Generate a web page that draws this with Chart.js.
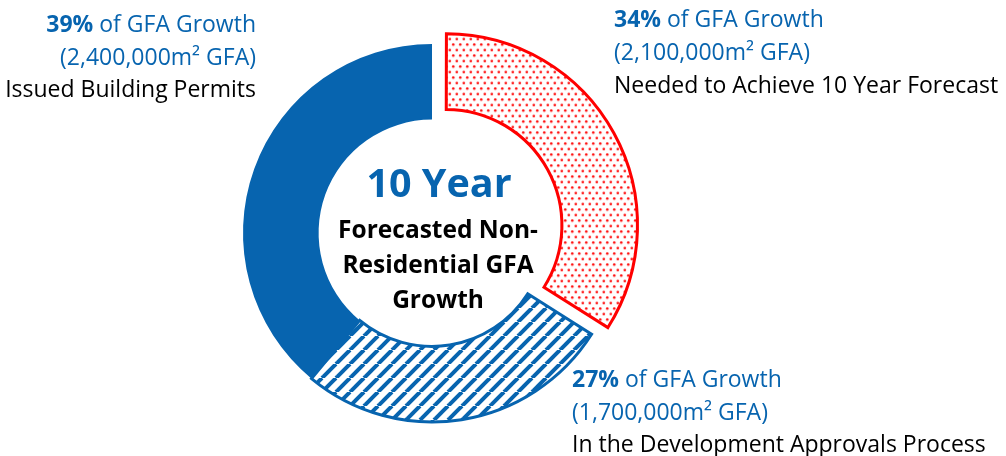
<!DOCTYPE html>
<html>
<head>
<meta charset="utf-8">
<script src="https://cdn.jsdelivr.net/npm/chart.js@4.4.1/dist/chart.umd.min.js"></script>
<style>
  html, body { margin: 0; padding: 0; background: #ffffff; }
  #wrap { position: relative; width: 1006px; height: 456px; }
</style>
</head>
<body>
<div id="wrap"><canvas id="c"></canvas></div>
<script>
// ---- data ----
const categories = ['Needed to Achieve 10 Year Forecast', 'In the Development Approvals Process', 'Issued Building Permits'];
const shares = [34, 27, 39];
const gfaValues = ['2,100,000', '1,700,000', '2,400,000'];
const centerTitle = '10 Year';
const centerLines = ['Forecasted Non-', 'Residential GFA', 'Growth'];

// ---- styles ----
const BLUE = '#0764AF';
const RED = '#FF0000';
const FONT = '"Open Sans", Lato, sans-serif';

function dotPattern() {
  const c = document.createElement('canvas');
  c.width = 7; c.height = 11;
  const g = c.getContext('2d');
  g.fillStyle = '#ffffff'; g.fillRect(0, 0, 7, 11);
  g.fillStyle = 'rgba(255,0,0,0.95)';
  [[1.75, 2.75], [5.25, 8.25]].forEach(([x, y]) => { g.beginPath(); g.arc(x, y, 1.3, 0, Math.PI * 2); g.fill(); });
  return g.createPattern(c, 'repeat');
}
function stripePattern() {
  const s = 14;
  const c = document.createElement('canvas');
  c.width = s; c.height = s;
  const g = c.getContext('2d');
  g.fillStyle = '#ffffff'; g.fillRect(0, 0, s, s);
  g.strokeStyle = BLUE; g.lineWidth = 4;
  for (let k = -1; k <= 1; k++) {
    g.beginPath(); g.moveTo(k * s, s); g.lineTo(k * s + s, 0); g.stroke();
  }
  return g.createPattern(c, 'repeat');
}

// label blocks
const labelBlocks = [
  { i: 2, x: 256, y: 32, align: 'right', gap: 32.5 },
  { i: 0, x: 614, y: 27, align: 'left', gap: 33 },
  { i: 1, x: 572, y: 387, align: 'left', gap: 32.5 }
];

const textPlugin = {
  id: 'texts',
  afterDraw(chart) {
    const ctx = chart.ctx;
    ctx.save();
    ctx.textBaseline = 'alphabetic';
    const sz = 23;
    labelBlocks.forEach(b => {
      const pct = shares[b.i] + '%';
      const rest = ' of GFA Growth';
      ctx.font = `bold ${sz}px ${FONT}`;
      const w1 = ctx.measureText(pct).width;
      ctx.font = `${sz}px ${FONT}`;
      const w2 = ctx.measureText(rest).width;
      let x0 = b.align === 'right' ? b.x - w1 - w2 : b.x;
      ctx.textAlign = 'left';
      ctx.fillStyle = BLUE;
      ctx.font = `bold ${sz}px ${FONT}`;
      ctx.fillText(pct, x0, b.y);
      ctx.font = `${sz}px ${FONT}`;
      ctx.fillText(rest, x0 + w1, b.y);
      ctx.textAlign = b.align;
      ctx.fillText('(' + gfaValues[b.i] + 'm² GFA)', b.x, b.y + b.gap);
      ctx.fillStyle = '#000000';
      ctx.fillText(categories[b.i], b.x, b.y + 2 * b.gap);
    });
    // center
    ctx.textAlign = 'center';
    ctx.fillStyle = BLUE;
    ctx.font = `bold 39.5px ${FONT}`;
    ctx.fillText(centerTitle, 439, 197);
    ctx.fillStyle = '#000000';
    ctx.font = `bold 24.5px ${FONT}`;
    centerLines.forEach((t, k) => ctx.fillText(t, 438, 238 + k * 35));
    ctx.restore();
  }
};

new Chart(document.getElementById('c'), {
  type: 'doughnut',
  data: {
    labels: categories,
    datasets: [{
      data: shares,
      backgroundColor: [dotPattern(), stripePattern(), BLUE],
      borderColor: [RED, BLUE, BLUE],
      borderWidth: [3, 3, 0],
      borderJoinStyle: 'miter',
      offset: [64, 0, 0]
    }]
  },
  options: {
    responsive: true,
    maintainAspectRatio: false,
    animation: false,
    radius: 189,
    cutout: '60%',
    layout: { padding: { left: 0, right: 142, top: 10, bottom: 0 } },
    plugins: { legend: { display: false }, tooltip: { enabled: false } },
    events: []
  },
  plugins: [textPlugin]
});
</script>
</body>
</html>
